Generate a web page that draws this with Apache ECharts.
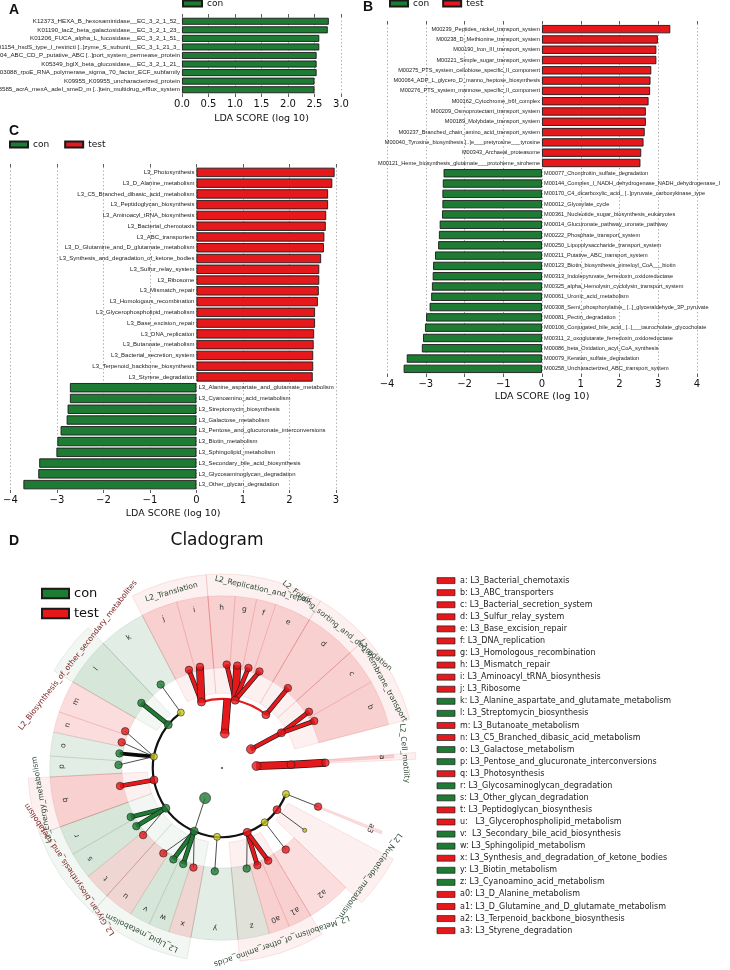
<!DOCTYPE html>
<html><head><meta charset="utf-8">
<script src="https://cdn.jsdelivr.net/npm/echarts@6/dist/echarts.min.js"></script>
<style>html,body{margin:0;padding:0;background:#fff}#c{width:730px;height:970px}</style>
</head><body><div id="c"></div>
<script>
// ================= DATA =================
// Panel A (con only)
const namesA = [
 'K12373_HEXA_B_hexosaminidase__EC_3_2_1_52_',
 'K01190_lacZ_beta_galactosidase__EC_3_2_1_23_',
 'K01206_FUCA_alpha_L_fucosidase__EC_3_2_1_51_',
 'K01154_hsdS_type_I_restricti [..]zyme_S_subunit__EC_3_1_21_3_',
 'K02004_ABC_CD_P_putative_ABC [..]port_system_permease_protein',
 'K05349_bglX_beta_glucosidase__EC_3_2_1_21_',
 'K03088_rpoE_RNA_polymerase_sigma_70_factor_ECF_subfamily',
 'K09955_K09955_uncharacterized_protein',
 'K03585_acrA_mexA_adeI_smeD_m [..]tein_multidrug_efflux_system'
];
const valuesA = [2.77, 2.75, 2.59, 2.59, 2.54, 2.54, 2.54, 2.50, 2.50];
const ticksA = [0, 0.5, 1.0, 1.5, 2.0, 2.5, 3.0];

// Panel B (positive = test, negative = con)
const namesB = [
 'M00239_Peptides_nickel_transport_system',
 'M00238_D_Methionine_transport_system',
 'M00190_Iron_III_transport_system',
 'M00221_Simple_sugar_transport_system',
 'M00275_PTS_system_cellobiose_specific_II_component',
 'M00064_ADP_L_glycero_D_manno_heptose_biosynthesis',
 'M00276_PTS_system_mannose_specific_II_component',
 'M00162_Cytochrome_b6f_complex',
 'M00209_Osmoprotectant_transport_system',
 'M00189_Molybdate_transport_system',
 'M00237_Branched_chain_amino_acid_transport_system',
 'M00040_Tyrosine_biosynthesis [..]e___pretyrosine___tyrosine',
 'M00343_Archaeal_proteasome',
 'M00121_Heme_biosynthesis_glutamate___protoheme_siroheme',
 'M00077_Chondroitin_sulfate_degradation',
 'M00144_Complex_I_NADH_dehydrogenase_NADH_dehydrogenase_I',
 'M00170_C4_dicarboxylic_acid_ [..]pyruvate_carboxykinase_type',
 'M00012_Glyoxylate_cycle',
 'M00361_Nucleotide_sugar_biosynthesis_eukaryotes',
 'M00014_Glucuronate_pathway_uronate_pathway',
 'M00222_Phosphate_transport_system',
 'M00250_Lipopolysaccharide_transport_system',
 'M00211_Putative_ABC_transport_system',
 'M00123_Biotin_biosynthesis_pimeloyl_CoA___biotin',
 'M00313_Indolepyruvate_ferredoxin_oxidoreductase',
 'M00325_alpha_Hemolysin_cyclolysin_transport_system',
 'M00061_Uronic_acid_metabolism',
 'M00308_Semi_phosphorylative_ [..]_glyceraldehyde_3P_pyruvate',
 'M00081_Pectin_degradation',
 'M00106_Conjugated_bile_acid_ [..]___taurocholate_glycocholate',
 'M00311_2_oxoglutarate_ferredoxin_oxidoreductase',
 'M00086_beta_Oxidation_acyl_CoA_synthesis',
 'M00079_Keratan_sulfate_degradation',
 'M00258_Uncharacterized_ABC_transport_system'
];
const valuesB = [3.31, 2.99, 2.95, 2.95, 2.82, 2.80, 2.79, 2.75, 2.68, 2.68, 2.65, 2.62, 2.56, 2.54,
 -2.54, -2.56, -2.57, -2.57, -2.58, -2.64, -2.66, -2.68, -2.76, -2.81, -2.82, -2.84, -2.86, -2.90,
 -2.99, -3.02, -3.07, -3.10, -3.49, -3.57];
const ticksB = [-4, -3, -2, -1, 0, 1, 2, 3, 4];

// Panel C
const namesC = [
 'L3_Photosynthesis','L3_D_Alanine_metabolism','L3_C5_Branched_dibasic_acid_metabolism',
 'L3_Peptidoglycan_biosynthesis','L3_Aminoacyl_tRNA_biosynthesis','L3_Bacterial_chemotaxis',
 'L3_ABC_transporters','L3_D_Glutamine_and_D_glutamate_metabolism','L3_Synthesis_and_degradation_of_ketone_bodies',
 'L3_Sulfur_relay_system','L3_Ribosome','L3_Mismatch_repair','L3_Homologous_recombination',
 'L3_Glycerophospholipid_metabolism','L3_Base_excision_repair','L3_DNA_replication',
 'L3_Butanoate_metabolism','L3_Bacterial_secretion_system','L3_Terpenoid_backbone_biosynthesis',
 'L3_Styrene_degradation','L3_Alanine_aspartate_and_glutamate_metabolism','L3_Cyanoamino_acid_metabolism',
 'L3_Streptomycin_biosynthesis','L3_Galactose_metabolism','L3_Pentose_and_glucuronate_interconversions',
 'L3_Biotin_metabolism','L3_Sphingolipid_metabolism','L3_Secondary_bile_acid_biosynthesis',
 'L3_Glycosaminoglycan_degradation','L3_Other_glycan_degradation'
];
const valuesC = [2.97, 2.92, 2.83, 2.83, 2.79, 2.78, 2.75, 2.74, 2.68, 2.64, 2.64, 2.63, 2.61, 2.55, 2.55,
 2.53, 2.52, 2.51, 2.51, 2.50, -2.72, -2.72, -2.77, -2.79, -2.92, -2.99, -3.01, -3.38, -3.40, -3.72];
const ticksC = [-4, -3, -2, -1, 0, 1, 2, 3];

// Panel D: cladogram  [id, level, angle(deg, ccw from east), class]
const cladeNodes = [
 ['root',0,0,'root'],
 ['G1',1,85.5,'test'], ['E1',1,33,'test'], ['C1',1,3.3,'test'], ['g1',1,240.7,'con'],
 ['G1j',2,85.5,'hidden'],
 ['T2',2,107.3,'test'], ['R2',2,79,'test'], ['F2',2,50.5,'test'], ['MT2',2,30.6,'test'], ['CM2',2,2.7,'test'],
 ['Y126',2,126.6,'none'], ['BS2',2,141.1,'con'], ['CA2',2,170.5,'none'], ['EN2',2,190,'test'],
 ['GL2',2,215.6,'con'], ['LP2',2,246.3,'con'], ['Y266',2,265.9,'none'], ['AA2',2,291.4,'test'],
 ['Y308',2,308.2,'none'], ['NU2',2,322.8,'test'], ['Y338',2,337.9,'none'],
 ['a',3,2.9,'test'], ['b',3,27,'test'], ['c',3,32.9,'test'], ['d',3,50.5,'test'], ['e',3,68.8,'test'],
 ['f',3,75.2,'test'], ['g',3,81.5,'test'], ['h',3,87.4,'test'], ['i',3,102.3,'test'], ['j',3,108.6,'test'],
 ['k',3,126.3,'con'], ['l',3,141.1,'con'], ['m',3,159.2,'test'], ['n',3,165.6,'test'], ['o',3,171.9,'con'],
 ['p',3,178.3,'con'], ['q',3,190,'test'], ['r',3,208.2,'con'], ['s',3,214.2,'con'], ['t',3,220.4,'test'],
 ['u',3,235.5,'test'], ['v',3,242,'con'], ['w',3,248,'con'], ['x',3,254,'test'], ['y',3,266,'con'],
 ['z',3,283.8,'con'], ['a0',3,290,'test'], ['a1',3,296.5,'test'], ['a2',3,308,'test'], ['n323',3,323,'none'],
 ['a3',3,338.1,'test']
];
// [from, to, kind]
const cladeEdges = [
 ['G1','G1j','bar'], ['T2','j','bio'], ['T2','i','bar'],
 ['R2','h','bio'], ['R2','g','bar'], ['R2','f','bio'], ['R2','e','bio'], ['F2','d','bio'],
 ['E1','MT2','bio'], ['MT2','c','bio'], ['MT2','b','bio'], ['C1','CM2','bar'], ['CM2','a','bar'],
 ['Y126','k','thin'], ['BS2','l','bio'],
 ['CA2','m','thin'], ['CA2','n','thin'], ['CA2','o','bold'], ['CA2','p','thin'],
 ['EN2','q','bio'], ['GL2','r','bio'], ['GL2','s','bio'], ['GL2','t','thin'],
 ['g1','LP2','thin'], ['LP2','u','thin'], ['LP2','v','bio'], ['LP2','w','bio'], ['LP2','x','thin'],
 ['Y266','y','thin'], ['AA2','z','thin'], ['AA2','a0','bio'], ['AA2','a1','bio'],
 ['Y308','a2','thin'], ['NU2','n323','thin'], ['Y338','a3','thin']
];
// [level, fromAngle, toAngle, class]
const cladeArcs = [[2, 50.5, 107.3, 'test'], [2, 126.6, 337.9, 'none']];
// L2 clade shading [id, fromAngle, toAngle, class]
const cladeL2Wedges = [
 ['T2',94.7,117.6,'test'], ['R2',59.5,94.7,'test'], ['F2',42,59.5,'test'], ['MT2',14.6,42,'test'],
 ['CM2',2.6,4.6,'test'], ['BS2',133.6,150,'con'], ['EN2',183,200,'test'], ['GL2',200,228,'con'],
 ['LP2',228,259.6,'con'], ['AA2',275.3,301,'test'], ['NU2',316,332,'test']
];
// L3 clade shading [letter, fromAngle, toAngle]
const cladeLeafWedges = [
 ['a',3.4,4.4], ['b',14.6,30], ['c',30,42], ['d',42,59.5], ['e',59.5,71.8], ['f',71.8,78.4],
 ['g',78.4,85.6], ['h',85.6,94.7], ['i',94.7,105.3], ['j',105.3,117.6], ['k',117.6,133.6],
 ['l',133.6,150], ['m',150,161], ['n',161,168], ['o',168,176], ['p',176,183], ['q',183,200],
 ['r',200,210], ['s',210,219], ['t',219,228], ['u',228,238], ['v',238,245], ['w',245,252],
 ['x',252,259.6], ['y',259.6,275.3], ['z',275.3,286], ['a0',286,293], ['a1',293,301],
 ['a2',301,316], ['a3',337.5,338.5]
];
// L2 labels [text, angle]
const cladeL2Labels = [
 ['L2_Translation',106], ['L2_Replication_and_repair',77], ['L2_Folding_sorting_and_degradation',51],
 ['L2_Membrane_transport',28.5], ['L2_Cell_motility',4.6], ['L2_Biosynthesis_of_other_secondary_metabolites',142],
 ['L2_Energy_metabolism',190], ['L2_Glycan_biosynthesis_and_metabolism',213.6], ['L2_Lipid_metabolism',244],
 ['L2_Metabolism_of_other_amino_acids',289], ['L2_Nucleotide_metabolism',324]
];
// key list
const keyLetters = ['a','b','c','d','e','f','g','h','i','j','k','l','m','n','o','p','q','r','s','t','u','v','w','x','y','z','a0','a1','a2','a3'];
const keyNames = ['L3_Bacterial_chemotaxis','L3_ABC_transporters','L3_Bacterial_secretion_system','L3_Sulfur_relay_system',
 'L3_Base_excision_repair','L3_DNA_replication','L3_Homologous_recombination','L3_Mismatch_repair',
 'L3_Aminoacyl_tRNA_biosynthesis','L3_Ribosome','L3_Alanine_aspartate_and_glutamate_metabolism',
 'L3_Streptomycin_biosynthesis','L3_Butanoate_metabolism','L3_C5_Branched_dibasic_acid_metabolism',
 'L3_Galactose_metabolism','L3_Pentose_and_glucuronate_interconversions','L3_Photosynthesis',
 'L3_Glycosaminoglycan_degradation','L3_Other_glycan_degradation','L3_Peptidoglycan_biosynthesis',
 '  L3_Glycerophospholipid_metabolism',' L3_Secondary_bile_acid_biosynthesis','L3_Sphingolipid_metabolism',
 'L3_Synthesis_and_degradation_of_ketone_bodies','L3_Biotin_metabolism','L3_Cyanoamino_acid_metabolism',
 'L3_D_Alanine_metabolism','L3_D_Glutamine_and_D_glutamate_metabolism','L3_Terpenoid_backbone_biosynthesis',
 'L3_Styrene_degradation'];
const keyClass = ['test','test','test','test','test','test','test','test','test','test','con','con','test','test',
 'con','con','test','con','con','test','test','con','con','test','con','con','test','test','test','test'];

// ================= STYLE =================
const GREEN = '#1e7b34', RED = '#e5181c', YELLOW = '#c9c81b';
const CLS = {test: RED, con: GREEN, none: YELLOW};
const FAM = 'DejaVu Sans', LFAM = 'Liberation Sans';
const R = {L2wIn: 2.17, L2wOut: 5.62, L3wIn: 2.9, L3wOut: 4.99, letter: 4.64, L2label: 5.3};
const darkRedLabels = new Set(['L2_Biosynthesis_of_other_secondary_metabolites','L2_Glycan_biosynthesis_and_metabolism']);
const nodeSizeOverride = {g1: 11, n323: 4, root: 2};
const nodeById = {};
cladeNodes.forEach(n => nodeById[n[0]] = {id: n[0], level: n[1], angle: n[2], cls: n[3]});
const leafCls = {};
cladeNodes.filter(n => n[1] === 3).forEach(n => leafCls[n[0]] = n[3]);

function fmtTick(v) { return v < 0 ? '\u2212' + Math.abs(v) : String(v); }

function axesFor(idx, ticks, fmt, gap) {
  const min = ticks[0], max = ticks[ticks.length - 1], interval = ticks[1] - ticks[0];
  return [{
    gridIndex: idx, type: 'value', min, max, interval, position: 'bottom',
    axisLine: {show: false}, axisTick: {show: true, length: 3, lineStyle: {color: '#333', width: 0.8}},
    axisLabel: {fontSize: 10, color: '#111', margin: 5, fontFamily: FAM, formatter: fmt},
    splitLine: {show: true, lineStyle: {type: [1.2, 2.4], color: '#8a8a8a', width: 0.8}},
    name: 'LDA SCORE (log 10)', nameLocation: 'middle', nameGap: gap,
    nameTextStyle: {fontSize: 9.5, fontFamily: FAM, color: '#111'}
  }, {
    gridIndex: idx, type: 'value', min, max, interval, position: 'top',
    axisLine: {show: false}, axisTick: {show: true, length: 3, lineStyle: {color: '#333', width: 0.8}},
    axisLabel: {show: false}, splitLine: {show: false}
  }];
}

const barItem = c => ({color: c, borderColor: '#1a1a1a', borderWidth: 0.9});
function barSeries(name, idx, data, color, pos, fs, gapCat) {
  return {
    name, type: 'bar', xAxisIndex: idx * 2, yAxisIndex: idx, data, barGap: '-100%', barCategoryGap: gapCat,
    itemStyle: barItem(color), silent: true,
    label: {show: true, position: pos, distance: 2, formatter: '{b}', fontSize: fs, fontFamily: LFAM, color: '#222'}
  };
}

// ---- polar helpers (library mapping) ----
function scrAngle(api, cx, cy, theta) { const p = api.coord([1, theta]); return Math.atan2(p[1] - cy, p[0] - cx); }
function pxRad(api, cx, cy, r) { const p = api.coord([r, 0]); return Math.hypot(p[0] - cx, p[1] - cy); }
function spanAngles(api, cx, cy, t0, t1) {
  const a1 = scrAngle(api, cx, cy, t1); let a0 = scrAngle(api, cx, cy, t0);
  while (a0 <= a1) a0 += Math.PI * 2;
  while (a0 - a1 > Math.PI * 2) a0 -= Math.PI * 2;
  return [a1, a0];
}
function sector(params, api, r0, r1, t0, t1, fill, stroke) {
  const cx = params.coordSys.cx, cy = params.coordSys.cy;
  const [s, e] = spanAngles(api, cx, cy, t0, t1);
  return {type: 'sector', shape: {cx, cy, r0: pxRad(api, cx, cy, r0), r: pxRad(api, cx, cy, r1), startAngle: s, endAngle: e, clockwise: true},
    style: {fill, stroke, lineWidth: 0.5}};
}
const fillL2 = {test: 'rgba(229,24,28,0.065)', con: 'rgba(30,123,52,0.06)'};
const fillL3 = {test: 'rgba(229,24,28,0.15)', con: 'rgba(30,123,52,0.13)'};
const strokeW = {test: 'rgba(210,50,50,0.22)', con: 'rgba(60,110,60,0.22)'};

const edgeWidth = {bio: 3.4, bar: 6.6};
const legText = fs => ({fontSize: fs, fontFamily: FAM, color: '#111'});

const option = {
  animation: false,
  backgroundColor: '#fff',
  title: [
    {text: 'A', left: 9, top: 3, padding: 0, textStyle: {fontSize: 14, fontWeight: 'bold', fontFamily: LFAM, color: '#111'}},
    {text: 'B', left: 363, top: 0, padding: 0, textStyle: {fontSize: 14, fontWeight: 'bold', fontFamily: LFAM, color: '#111'}},
    {text: 'C', left: 9, top: 124, padding: 0, textStyle: {fontSize: 14, fontWeight: 'bold', fontFamily: LFAM, color: '#111'}},
    {text: 'D', left: 9, top: 534, padding: 0, textStyle: {fontSize: 14, fontWeight: 'bold', fontFamily: LFAM, color: '#111'}},
    {text: 'Cladogram', left: 217, top: 532, textAlign: 'center', padding: 0, textStyle: {fontSize: 17, fontWeight: 'normal', fontFamily: FAM, color: '#111'}}
  ],
  legend: [
    {data: ['con'], left: 182, top: -1, padding: 0, icon: 'rect', itemWidth: 19, itemHeight: 6, selectedMode: false, textStyle: legText(9)},
    {data: ['con', 'test'], left: 389, top: -1, padding: 0, icon: 'rect', itemWidth: 18, itemHeight: 6, itemGap: 13, selectedMode: false, textStyle: legText(9)},
    {data: ['con', 'test'], left: 9, top: 140, padding: 0, icon: 'rect', itemWidth: 18, itemHeight: 6, itemGap: 15, selectedMode: false, textStyle: legText(9)},
    {data: ['con', 'test'], left: 41, top: 586, padding: 0, icon: 'rect', orient: 'vertical', itemWidth: 27, itemHeight: 9.5, itemGap: 5,
     selectedMode: false, textStyle: {fontSize: 13, lineHeight: 15, fontFamily: FAM, color: '#111'}}
  ],
  grid: [
    {left: 182, top: 17, width: 159, height: 77},
    {left: 387, top: 24, width: 310, height: 350},
    {left: 6, top: 167, width: 330, height: 323}
  ],
  xAxis: [].concat(
    axesFor(0, ticksA, v => v.toFixed(1), 20),
    axesFor(1, ticksB, fmtTick, 18),
    axesFor(2, ticksC, fmtTick, 19)
  ),
  yAxis: [
    {gridIndex: 0, type: 'category', data: namesA, inverse: true, show: false},
    {gridIndex: 1, type: 'category', data: namesB, inverse: true, show: false},
    {gridIndex: 2, type: 'category', data: namesC, inverse: true, show: false}
  ],
  polar: {center: [222, 768], radius: 194},
  radiusAxis: {type: 'value', min: 0, max: 5.62, show: false},
  angleAxis: {type: 'value', min: 0, max: 360, startAngle: 0, clockwise: false, show: false},
  series: [
    barSeries('con', 0, valuesA, GREEN, 'left', 6.2, '18%'),
    barSeries('test', 1, valuesB.map(v => v > 0 ? v : '-'), RED, 'left', 5.6, '19%'),
    barSeries('con', 1, valuesB.map(v => v < 0 ? v : '-'), GREEN, 'right', 5.6, '19%'),
    barSeries('test', 2, valuesC.map(v => v > 0 ? v : '-'), RED, 'left', 6, '13%'),
    barSeries('con', 2, valuesC.map(v => v < 0 ? v : '-'), GREEN, 'right', 6, '13%'),
    // L2 shading
    {type: 'custom', coordinateSystem: 'polar', silent: true, clip: false, z: 1,
     data: cladeL2Wedges.map(w => [R.L2wOut, (w[1] + w[2]) / 2]),
     renderItem: (params, api) => {
       const w = cladeL2Wedges[params.dataIndex];
       return sector(params, api, R.L2wIn, R.L2wOut, w[1], w[2], fillL2[w[3]], strokeW[w[3]]);
     }},
    // L3 shading
    {type: 'custom', coordinateSystem: 'polar', silent: true, clip: false, z: 2,
     data: cladeLeafWedges.map(w => [R.L3wOut, (w[1] + w[2]) / 2]),
     renderItem: (params, api) => {
       const w = cladeLeafWedges[params.dataIndex]; const c = leafCls[w[0]];
       return sector(params, api, R.L3wIn, R.L3wOut, w[1], w[2], fillL3[c], strokeW[c]);
     }},
    // arcs
    {type: 'custom', coordinateSystem: 'polar', silent: true, clip: false, z: 3,
     data: cladeArcs.map(a => [a[0], (a[1] + a[2]) / 2]),
     renderItem: (params, api) => {
       const a = cladeArcs[params.dataIndex];
       const cx = params.coordSys.cx, cy = params.coordSys.cy;
       const [s, e] = spanAngles(api, cx, cy, a[1], a[2]);
       return {type: 'arc', shape: {cx, cy, r: pxRad(api, cx, cy, a[0]), startAngle: s, endAngle: e, clockwise: true},
         style: {stroke: a[3] === 'test' ? RED : '#111', lineWidth: 2.2, fill: null}};
     }},
    // edges
    {type: 'custom', coordinateSystem: 'polar', silent: true, clip: false, z: 4,
     data: cladeEdges.map(e => [nodeById[e[1]].level, nodeById[e[1]].angle]),
     renderItem: (params, api) => {
       const e = cladeEdges[params.dataIndex];
       const A = nodeById[e[0]], B = nodeById[e[1]];
       const p1 = api.coord([A.level, A.angle]), p2 = api.coord([B.level, B.angle]);
       const shape = {x1: p1[0], y1: p1[1], x2: p2[0], y2: p2[1]};
       if (e[2] === 'thin') return {type: 'line', shape, style: {stroke: '#3a3a3a', lineWidth: 0.9}};
       if (e[2] === 'bold') return {type: 'line', shape, style: {stroke: '#0a0a0a', lineWidth: 3.6}};
       const cls = (B.cls === 'test' || B.cls === 'con') ? B.cls : A.cls;
       const w = edgeWidth[e[2]];
       return {type: 'group', children: [
         {type: 'line', shape, style: {stroke: '#1a1a1a', lineWidth: w + 1.3, lineCap: 'butt'}},
         {type: 'line', shape, style: {stroke: CLS[cls], lineWidth: w, lineCap: 'butt'}}
       ]};
     }},
    // nodes
    {type: 'scatter', coordinateSystem: 'polar', silent: true, z: 6, symbol: 'circle',
     data: cladeNodes.filter(n => n[3] !== 'hidden').map(n => {
       const id = n[0], lvl = n[1], c = n[3];
       let size = lvl === 1 ? 9 : lvl === 2 ? (c === 'none' ? 7 : 8) : 7.5;
       if (nodeSizeOverride[id] !== undefined) size = nodeSizeOverride[id];
       return {value: [lvl, n[2]], symbolSize: size,
         itemStyle: c === 'root' ? {color: '#111', borderWidth: 0}
           : {color: CLS[c], borderColor: '#1a1a1a', borderWidth: 0.7}};
     })},
    // L3 letters
    {type: 'custom', coordinateSystem: 'polar', silent: true, clip: false, z: 7,
     data: cladeLeafWedges.map(w => [R.letter, (w[1] + w[2]) / 2]),
     renderItem: (params, api) => {
       const w = cladeLeafWedges[params.dataIndex]; const th = (w[1] + w[2]) / 2;
       const p = api.coord([R.letter, th]);
       return {type: 'text', x: p[0], y: p[1], rotation: (th - 90) * Math.PI / 180,
         style: {text: w[0], fontSize: 7.5, fontFamily: FAM, fill: '#333', align: 'center', verticalAlign: 'middle'}};
     }},
    // L2 labels
    {type: 'custom', coordinateSystem: 'polar', silent: true, clip: false, z: 7,
     data: cladeL2Labels.map(l => [R.L2label, l[1]]),
     renderItem: (params, api) => {
       const l = cladeL2Labels[params.dataIndex];
       const p = api.coord([R.L2label, l[1]]);
       return {type: 'text', x: p[0], y: p[1], rotation: (l[1] - 90) * Math.PI / 180,
         style: {text: l[0], fontSize: 7.6, fontFamily: FAM, fill: darkRedLabels.has(l[0]) ? '#7a2323' : '#2e4a36',
           align: 'center', verticalAlign: 'middle'}};
     }}
  ],
  graphic: keyLetters.map((L, i) => {
    const y = 580.6 + i * 12.07;
    return {type: 'group', silent: true, children: [
      {type: 'rect', shape: {x: 437, y: y - 3, width: 18, height: 6}, style: {fill: CLS[keyClass[i]], stroke: '#222', lineWidth: 0.7}},
      {type: 'text', x: 460, y: y, style: {text: L + ': ' + keyNames[i], fontSize: 8, fontFamily: FAM, fill: '#222', verticalAlign: 'middle'}}
    ]};
  })
};

const chart = echarts.init(document.getElementById('c'), null, {renderer: 'canvas', width: 730, height: 970});
chart.setOption(option);
</script>
</body></html>
